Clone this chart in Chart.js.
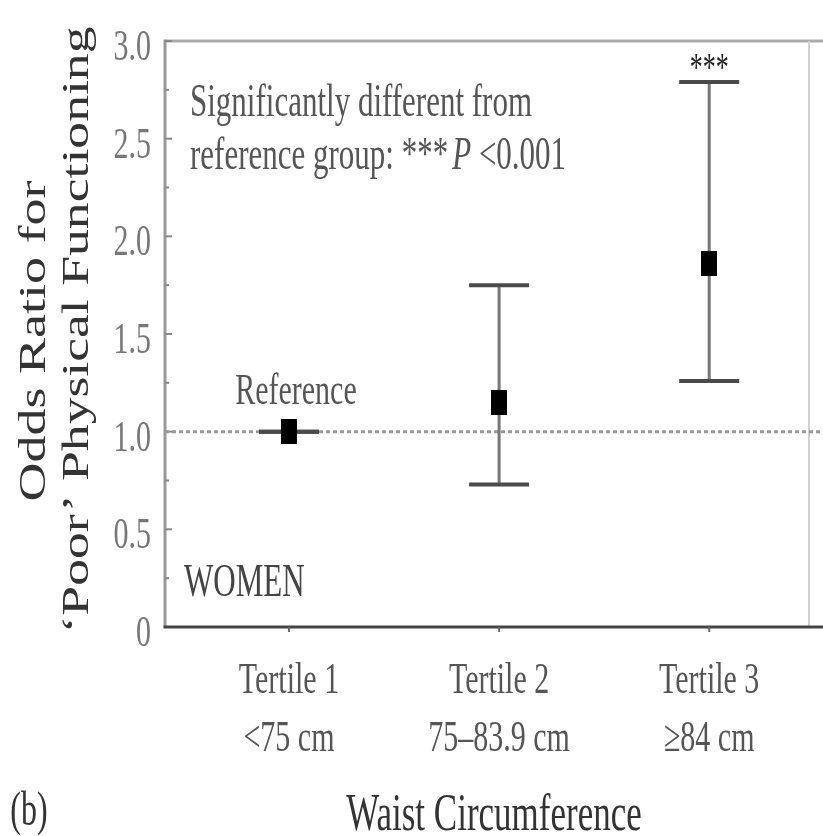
<!DOCTYPE html>
<html><head><meta charset="utf-8">
<script src="https://cdn.jsdelivr.net/npm/chart.js@4/dist/chart.umd.min.js"></script>
<style>html,body{margin:0;padding:0;background:#fff;overflow:hidden;}#wrap{width:823px;height:836px;position:relative;}canvas{display:block;}</style>
</head><body>
<div id="wrap"><canvas id="c" width="823" height="836" style="width:823px;height:836px"></canvas></div>
<script>
// ---- data ----
const categories = [1, 2, 3];
const categoryLine1 = ['Tertile 1', 'Tertile 2', 'Tertile 3'];
const categoryLine2 = ['<75 cm', '75\u201383.9 cm', '\u226584 cm'];
const oddsRatio = [1.0, 1.15, 1.86];
const ciLower = [1.0, 0.73, 1.26];
const ciUpper = [1.0, 1.75, 2.79];
const significance = ['', '', '***'];
const yTickValues = [0, 0.5, 1, 1.5, 2, 2.5, 3];
const yTickLabels = ['0', '0.5', '1.0', '1.5', '2.0', '2.5', '3.0'];
const yMinorTicks = [0.25, 0.75, 1.25, 1.75, 2.25, 2.75];
const referenceValue = 1.0;
const referenceLabel = 'Reference';
const yTitleLines = ['Odds Ratio for', '\u2018Poor\u2019 Physical Functioning'];
const xTitle = 'Waist Circumference';
const noteLine1 = 'Significantly different from';
const noteLine2 = ['reference group: ***', 'P', ' <0.001'];
const groupLabel = 'WOMEN';
const panelLabel = '(b)';

const X_MIN = 0.41, X_MAX = 3.475, Y_MIN = 0, Y_MAX = 3;
const FONT = '"Liberation Serif", "Times New Roman", serif';
const SY = 1.5; // vertical stretch of the source image

const marker = document.createElement('canvas');
marker.width = 16; marker.height = 25;
(function(){ const m = marker.getContext('2d'); m.fillStyle = '#000'; m.fillRect(0,0,16,25); })();

const whiskerData = [];
categories.forEach((c, i) => {
  whiskerData.push({x: c, y: ciLower[i]}, {x: c, y: ciUpper[i]}, {x: c, y: null});
});
const capData = [];
categories.forEach((c, i) => { capData.push({x: c, y: ciLower[i]}, {x: c, y: ciUpper[i]}); });
const pointData = categories.map((c, i) => ({x: c, y: oddsRatio[i]}));
const refData = [{x: X_MIN, y: referenceValue}, {x: X_MAX + 0.08, y: referenceValue}];

function txt(ctx, s, x, y, o) {
  ctx.save();
  ctx.font = (o.style || '') + ' ' + o.size + 'px ' + FONT;
  ctx.fillStyle = o.color || '#444';
  ctx.textAlign = o.align || 'left';
  ctx.textBaseline = 'alphabetic';
  ctx.translate(x, y);
  if (o.rotate) ctx.rotate(o.rotate);
  ctx.scale(o.sx || 1, o.sy || 1);
  ctx.fillText(s, 0, 0);
  ctx.restore();
}

const decor = {
  id: 'decor',
  beforeDraw(chart) {
    const ctx = chart.ctx;
    ctx.save(); ctx.fillStyle = '#fff'; ctx.fillRect(0, 0, chart.width, chart.height); ctx.restore();
  },
  beforeDatasetsDraw(chart) {
    const {ctx, chartArea: a, scales: {x, y}} = chart;
    ctx.save();
    ctx.lineWidth = 3;
    ctx.strokeStyle = '#aaa';
    ctx.beginPath(); ctx.moveTo(a.left, a.top); ctx.lineTo(chart.width, a.top); ctx.stroke();
    ctx.strokeStyle = '#999';
    ctx.beginPath(); ctx.moveTo(a.left, a.top - 1.5); ctx.lineTo(a.left, a.bottom); ctx.stroke();
    ctx.lineWidth = 2; ctx.strokeStyle = '#d0d0d0';
    ctx.beginPath(); ctx.moveTo(a.right, a.top); ctx.lineTo(a.right, a.bottom); ctx.stroke();
    ctx.lineWidth = 2; ctx.strokeStyle = '#888';
    yTickValues.forEach(v => { const p = y.getPixelForValue(v); ctx.beginPath(); ctx.moveTo(a.left, p); ctx.lineTo(a.left + 7, p); ctx.stroke(); });
    yMinorTicks.forEach(v => { const p = y.getPixelForValue(v); ctx.beginPath(); ctx.moveTo(a.left, p); ctx.lineTo(a.left + 4, p); ctx.stroke(); });
    ctx.restore();
  },
  afterDatasetsDraw(chart) {
    const {ctx, chartArea: a, scales: {x, y}} = chart;
    ctx.save();
    ctx.lineWidth = 3; ctx.strokeStyle = '#444';
    ctx.beginPath(); ctx.moveTo(a.left - 1.5, a.bottom); ctx.lineTo(chart.width, a.bottom); ctx.stroke();
    ctx.lineWidth = 2; ctx.strokeStyle = '#666';
    categories.forEach(c => { const p = x.getPixelForValue(c); ctx.beginPath(); ctx.moveTo(p, a.bottom); ctx.lineTo(p, a.bottom + 5); ctx.stroke(); });
    ctx.restore();
  },
  afterDraw(chart) {
    const {ctx, chartArea: a, scales: {x, y}} = chart;
    yTickValues.forEach((v, i) => {
      txt(ctx, yTickLabels[i], 151, y.getPixelForValue(v) + 19, {size: 30, sy: SY, align: 'right', color: '#777'});
    });
    categories.forEach((c, i) => {
      const p = x.getPixelForValue(c);
      txt(ctx, categoryLine1[i], p, 693, {size: 30, sy: SY, align: 'center', color: '#555'});
      txt(ctx, categoryLine2[i], p, 751, {size: 30, sy: SY, align: 'center', color: '#555'});
      if (significance[i]) {
        txt(ctx, significance[i], p, y.getPixelForValue(ciUpper[i]) - 2, {size: 26, sy: SY, align: 'center', color: '#222'});
      }
    });
    txt(ctx, xTitle, 494, 830, {size: 35, sy: SY, align: 'center', color: '#333'});
    txt(ctx, yTitleLines[0], 45, 341, {size: 37, sx: 1.46, align: 'center', rotate: -Math.PI / 2, color: '#333'});
    txt(ctx, yTitleLines[1], 88, 330, {size: 37, sx: 1.45, align: 'center', rotate: -Math.PI / 2, color: '#333'});
    txt(ctx, referenceLabel, x.getPixelForValue(categories[0]) + 7, 404, {size: 30, sy: SY, align: 'center', color: '#555'});
    txt(ctx, noteLine1, 190, 116, {size: 31, sy: SY, color: '#555'});
    ctx.save();
    ctx.font = '31px ' + FONT;
    const w0 = ctx.measureText(noteLine2[0]).width;
    ctx.font = 'italic 31px ' + FONT;
    const w1 = ctx.measureText(noteLine2[1]).width;
    ctx.restore();
    txt(ctx, noteLine2[0], 190, 169, {size: 31, sy: SY, color: '#555'});
    txt(ctx, noteLine2[1], 190 + w0 + 4, 169, {size: 31, sy: SY, style: 'italic', color: '#555'});
    txt(ctx, noteLine2[2], 190 + w0 + 4 + w1, 169, {size: 31, sy: SY, color: '#555'});
    txt(ctx, groupLabel, 184, 596, {size: 31, sy: SY, color: '#444'});
    txt(ctx, panelLabel, 29, 825, {size: 32, sy: SY, align: 'center', color: '#333'});
  }
};

new Chart(document.getElementById('c'), {
  type: 'line',
  data: {
    datasets: [
      {label: 'OR', type: 'scatter', data: pointData, pointStyle: marker, pointRadius: 10, pointHoverRadius: 10, order: 0},
      {label: 'caps', type: 'scatter', data: capData, pointStyle: 'line', pointRadius: 30, pointHoverRadius: 30,
       pointBorderWidth: 4, pointBorderColor: '#4a4a4a', borderColor: '#4a4a4a', backgroundColor: '#4a4a4a', order: 1},
      {label: 'CI', data: whiskerData, showLine: true, spanGaps: false, borderColor: '#777', borderWidth: 3,
       pointRadius: 0, pointHoverRadius: 0, order: 2},
      {label: 'ref', data: refData, borderColor: '#999', borderWidth: 3, borderDash: [4, 3], pointRadius: 0, pointHoverRadius: 0,
       clip: {left: 0, top: 0, right: 20, bottom: 0}, order: 3}
    ]
  },
  options: {
    responsive: false,
    animation: false,
    devicePixelRatio: 1,
    layout: {autoPadding: false, padding: {left: 165, top: 41, right: 14, bottom: 209}},
    plugins: {legend: {display: false}, tooltip: {enabled: false}},
    events: [],
    scales: {
      x: {type: 'linear', min: X_MIN, max: X_MAX, display: false},
      y: {type: 'linear', min: Y_MIN, max: Y_MAX, display: false}
    }
  },
  plugins: [decor]
});
</script>
</body></html>
